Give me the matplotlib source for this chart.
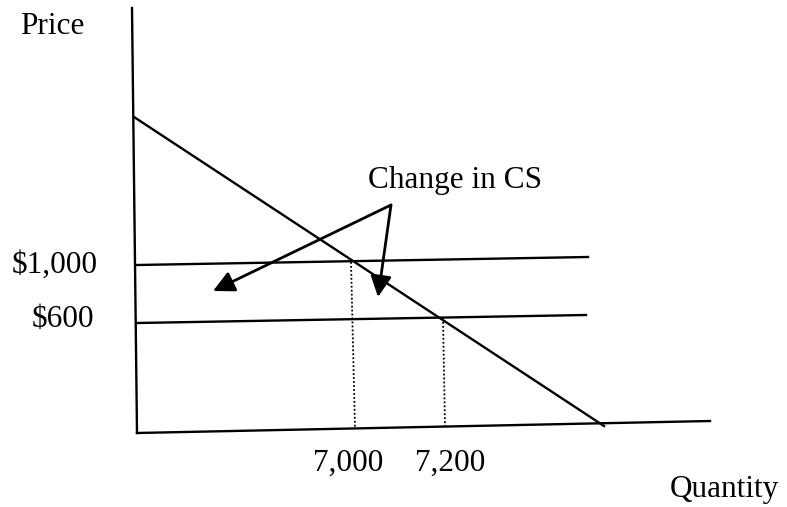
import matplotlib
matplotlib.use('Agg')
import matplotlib.pyplot as plt

# Schematic diagram, coordinates in picture units (x right, y down)
axis_v_x = [132, 137]
axis_v_y = [8, 433]
axis_h_x = [137, 710]
axis_h_y = [433, 421]

demand_x = [134, 604]
demand_y = [117, 426]

price_1000_x = [137, 588]
price_1000_y = [265, 257]
price_600_x = [137, 586]
price_600_y = [323, 315]

drop_7000_x = [351, 355]
drop_7000_y = [262, 428]
drop_7200_x = [443, 445]
drop_7200_y = [318, 426]

arrow_start = (391, 205)
arrow_ends = [(213, 291), (378, 297)]

labels = ["Price", "$1,000", "$600", "7,000", "7,200", "Quantity", "Change in CS"]
label_x = [20, 12, 32, 383, 415, 670, 368]
label_y = [34, 273, 327, 471, 471, 497, 188]
label_ha = ['left', 'left', 'left', 'right', 'left', 'left', 'left']

plt.rcParams['font.family'] = ['Liberation Serif', 'DejaVu Serif']

fig = plt.figure(figsize=(7.87, 5.07), dpi=100)
ax = fig.add_axes([0, 0, 1, 1])
ax.set_xlim(0, 787)
ax.set_ylim(507, 0)
ax.axis('off')

lw = 1.7
ax.plot(axis_v_x, axis_v_y, color='black', lw=lw)
ax.plot(axis_h_x, axis_h_y, color='black', lw=lw)
ax.plot(demand_x, demand_y, color='black', lw=lw)
ax.plot(price_1000_x, price_1000_y, color='black', lw=lw)
ax.plot(price_600_x, price_600_y, color='black', lw=lw)
ax.plot(drop_7000_x, drop_7000_y, color='black', lw=1.3, linestyle=(0, (1, 1.2)))
ax.plot(drop_7200_x, drop_7200_y, color='black', lw=1.3, linestyle=(0, (1, 1.2)))

for end in arrow_ends:
    ax.annotate('', xy=end, xytext=arrow_start,
                arrowprops=dict(arrowstyle='-|>', mutation_scale=32, lw=2,
                                color='black', shrinkA=0, shrinkB=0))

for t, x, y, ha in zip(labels, label_x, label_y, label_ha):
    ax.text(x, y, t, fontsize=22.5, ha=ha, va='baseline', color='black')

fig.savefig('out.png', dpi=100)
